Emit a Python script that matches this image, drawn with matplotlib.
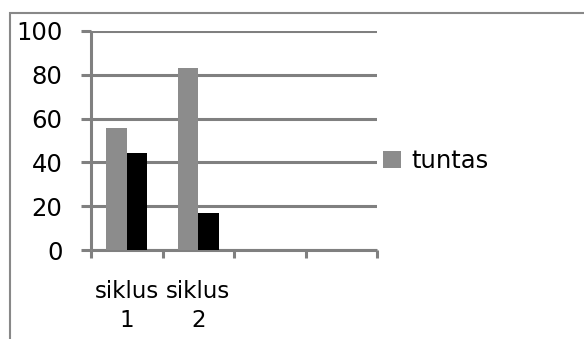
import matplotlib
matplotlib.use("Agg")
import matplotlib.pyplot as plt
from matplotlib.patches import Rectangle
import numpy as np

plt.rcParams['font.family'] = ['DejaVu Sans']

categories = ["siklus\n1", "siklus\n2", "", ""]
tuntas = [55.56, 83.33, np.nan, np.nan]
tidak_tuntas = [44.44, 16.67, np.nan, np.nan]
yticks = [0, 20, 40, 60, 80, 100]

W, H = 584, 339
fig = plt.figure(figsize=(W / 100, H / 100), dpi=100)
ax = fig.add_axes([91 / W, 1 - 250 / H, (377 - 91) / W, (250 - 31) / H])

grid_c = '#808080'
x = np.arange(len(categories))
bw = 0.287
ax.bar(x - bw / 2, tuntas, width=bw, color='#8c8c8c', label='tuntas', zorder=3)
ax.bar(x + bw / 2, tidak_tuntas, width=bw, color='#000000', label='_tidak tuntas', zorder=3)

ax.set_xlim(-0.5, len(categories) - 0.5)
ax.set_ylim(0, 100)
ax.set_yticks(yticks)
ax.set_yticklabels([str(v) for v in yticks], fontsize=17.5)
ax.yaxis.grid(True, color=grid_c, linewidth=2.2, zorder=0)
ax.set_axisbelow(True)

ax.set_xticks(np.arange(len(categories) + 1) - 0.5)
ax.set_xticklabels([])
ax.set_xticks(x, minor=True)
ax.set_xticklabels(categories, minor=True, fontsize=16.5, linespacing=1.35)
ax.tick_params(axis='x', which='minor', length=0, pad=21.5)
ax.tick_params(axis='x', which='major', length=6, width=2.2, color=grid_c)
ax.tick_params(axis='y', length=7.5, width=2.2, color=grid_c, pad=13)

for s in ['top', 'right']:
    ax.spines[s].set_visible(False)
for s in ['left', 'bottom']:
    ax.spines[s].set_color(grid_c)
    ax.spines[s].set_linewidth(2.2)
    ax.spines[s].set_capstyle('butt')

ax.legend(loc='center left', bbox_to_anchor=(383 / W, 1 - 161 / H),
          bbox_transform=fig.transFigure, frameon=False, fontsize=17.5,
          handlelength=0.74, handleheight=0.74, handletextpad=0.42,
          borderpad=0, borderaxespad=0)

fig.add_artist(Rectangle((9.5 / W, -0.1), 1.2, 1 - 13.5 / H + 0.1,
                         transform=fig.transFigure, fill=False,
                         edgecolor='#888888', linewidth=1.5))

fig.savefig('out.png', dpi=100)
